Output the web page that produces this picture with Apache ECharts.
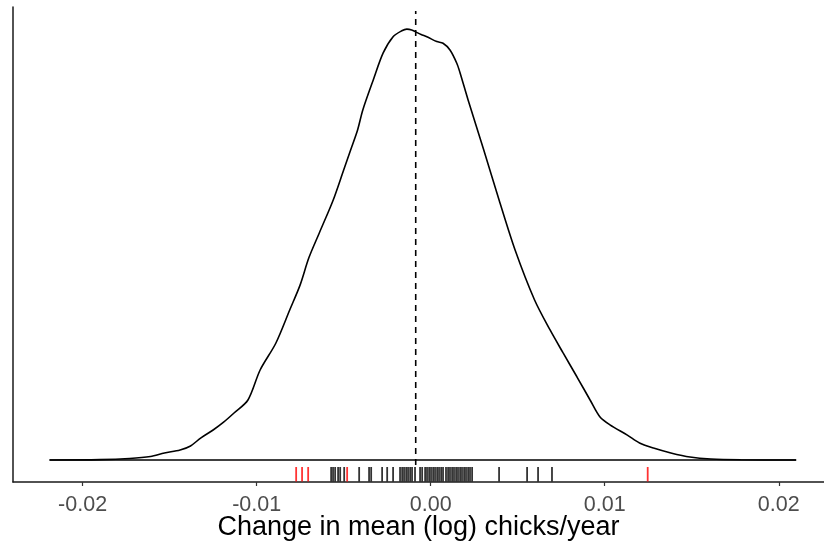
<!DOCTYPE html>
<html>
<head>
<meta charset="utf-8">
<script src="https://cdn.jsdelivr.net/npm/echarts@6/dist/echarts.min.js"></script>
<style>
html,body{margin:0;padding:0;background:#fff;}
#chart{width:824px;height:541px;}
</style>
</head>
<body>
<div id="chart"></div>
<script>
// Density curve (x = change in mean log chicks/year, y = density)
const densityX = [-0.0219,-0.0190,-0.0173,-0.0161,-0.0153,-0.0144,-0.0138,-0.0132,-0.0125,-0.0119,-0.0113,-0.0105,-0.0098,-0.0089,-0.0081,-0.0075,-0.0070,-0.0064,-0.0056,-0.0050,-0.0046,-0.0042,-0.0039,-0.0033,-0.00273,-0.00216,-0.00166,-0.00137,-0.00109,-0.00086,-0.00055,-0.00022,0.00035,0.00071,0.00111,0.00150,0.00169,0.00215,0.00305,0.00393,0.00485,0.00597,0.00686,0.00761,0.00841,0.00916,0.00973,0.0103,0.0113,0.0120,0.0128,0.0138,0.0149,0.0161,0.0178,0.0210];
const densityY = [0,0.07,0.28,0.65,1.3,1.85,2.6,4.1,5.55,7.0,8.7,11.1,16.65,21.6,27.75,32.4,37.4,42.0,48.1,53.65,57.35,61.05,64.75,70.3,75.3,78.3,79.4,79.7,79.55,79.2,78.7,78.3,77.4,77.1,75.85,73.4,71.6,66.6,57.35,48.1,38.85,29.6,24.05,19.8,15.35,11.1,7.95,6.5,4.6,3.15,2.2,1.3,0.55,0.18,0.04,0];
// Rug values
const rugBlack = [-0.00572,-0.00561,-0.00549,-0.00532,-0.00520,-0.00497,-0.00411,-0.00354,-0.00342,-0.00279,-0.00250,-0.00216,-0.00176,-0.00164,-0.00153,-0.00141,-0.00130,-0.00118,-0.00107,-0.00090,-0.00061,-0.00049,-0.00032,-0.00021,-0.00009,0.00002,0.00014,0.00025,0.00037,0.00048,0.00060,0.00071,0.00088,0.00100,0.00111,0.00123,0.00134,0.00146,0.00157,0.00169,0.00180,0.00192,0.00203,0.00215,0.00226,0.00238,0.00393,0.00554,0.00617,0.00697];
const rugRed = [-0.00773,-0.00739,-0.00704,-0.00480,0.01247];
// Reference (median) line
const refLineX = -0.00086;
// Tick labels
const xTicks = [-0.02,-0.01,0,0.01,0.02];
const xTickLabels = ['-0.02','-0.01','0.00','0.01','0.02'];
const xTitle = 'Change in mean (log) chicks/year';

const Y_MIN = -4.07, Y_MAX = 83.8;
const RUG_Y = -2.64;
const VLINE_TOP = 83.07, VLINE_BOTTOM = -0.925;

const chart = echarts.init(document.getElementById('chart'), null, {renderer:'canvas'});
const curve = densityX.map((x,i)=>[x, densityY[i]]);
const base = [[densityX[0],0],[densityX[densityX.length-1],0]];

chart.setOption({
  animation:false,
  backgroundColor:'#ffffff',
  grid:{left:13,right:0,top:7,bottom:59,containLabel:false,outerBoundsMode:'none'},
  xAxis:{
    type:'value', min:-0.024, max:0.0226,
    splitLine:{show:false},
    axisLine:{show:true,onZero:false,lineStyle:{color:'#1a1a1a',width:1.5}},
    axisTick:{show:true,customValues:xTicks,length:4,lineStyle:{color:'#333',width:1.2}},
    axisLabel:{customValues:xTicks,margin:12,fontSize:21.5,color:'#4d4d4d',fontFamily:'Liberation Sans, Arial, sans-serif',
      formatter:(v)=>{const i=xTicks.findIndex(t=>Math.abs(t-v)<1e-9);return i>=0?xTickLabels[i]:'';}},
    name:xTitle, nameLocation:'middle', nameGap:32, nameMoveOverlap:false,
    nameTextStyle:{fontSize:27,color:'#000',fontFamily:'Liberation Sans, Arial, sans-serif'}
  },
  yAxis:{
    type:'value', min:Y_MIN, max:Y_MAX,
    splitLine:{show:false},
    axisLine:{show:true,onZero:false,lineStyle:{color:'#1a1a1a',width:1.5}},
    axisTick:{show:false}, axisLabel:{show:false}
  },
  series:[
    {type:'line',data:base,symbol:'none',lineStyle:{color:'#000',width:1.6},z:2},
    {type:'line',data:curve,symbol:'none',smooth:0.3,lineStyle:{color:'#000',width:1.6},z:3},
    {type:'line',data:[[refLineX,VLINE_BOTTOM],[refLineX,VLINE_TOP]],symbol:'none',
      lineStyle:{color:'#000',width:1.6,type:[6,5]},z:4},
    {type:'scatter',data:rugBlack.map(x=>[x,RUG_Y]),symbol:'rect',symbolSize:[1.8,14.5],
      itemStyle:{color:'#000'},z:5},
    {type:'scatter',data:rugRed.map(x=>[x,RUG_Y]),symbol:'rect',symbolSize:[1.8,14.5],
      itemStyle:{color:'#ff0000'},z:6}
  ]
});
</script>
</body>
</html>
